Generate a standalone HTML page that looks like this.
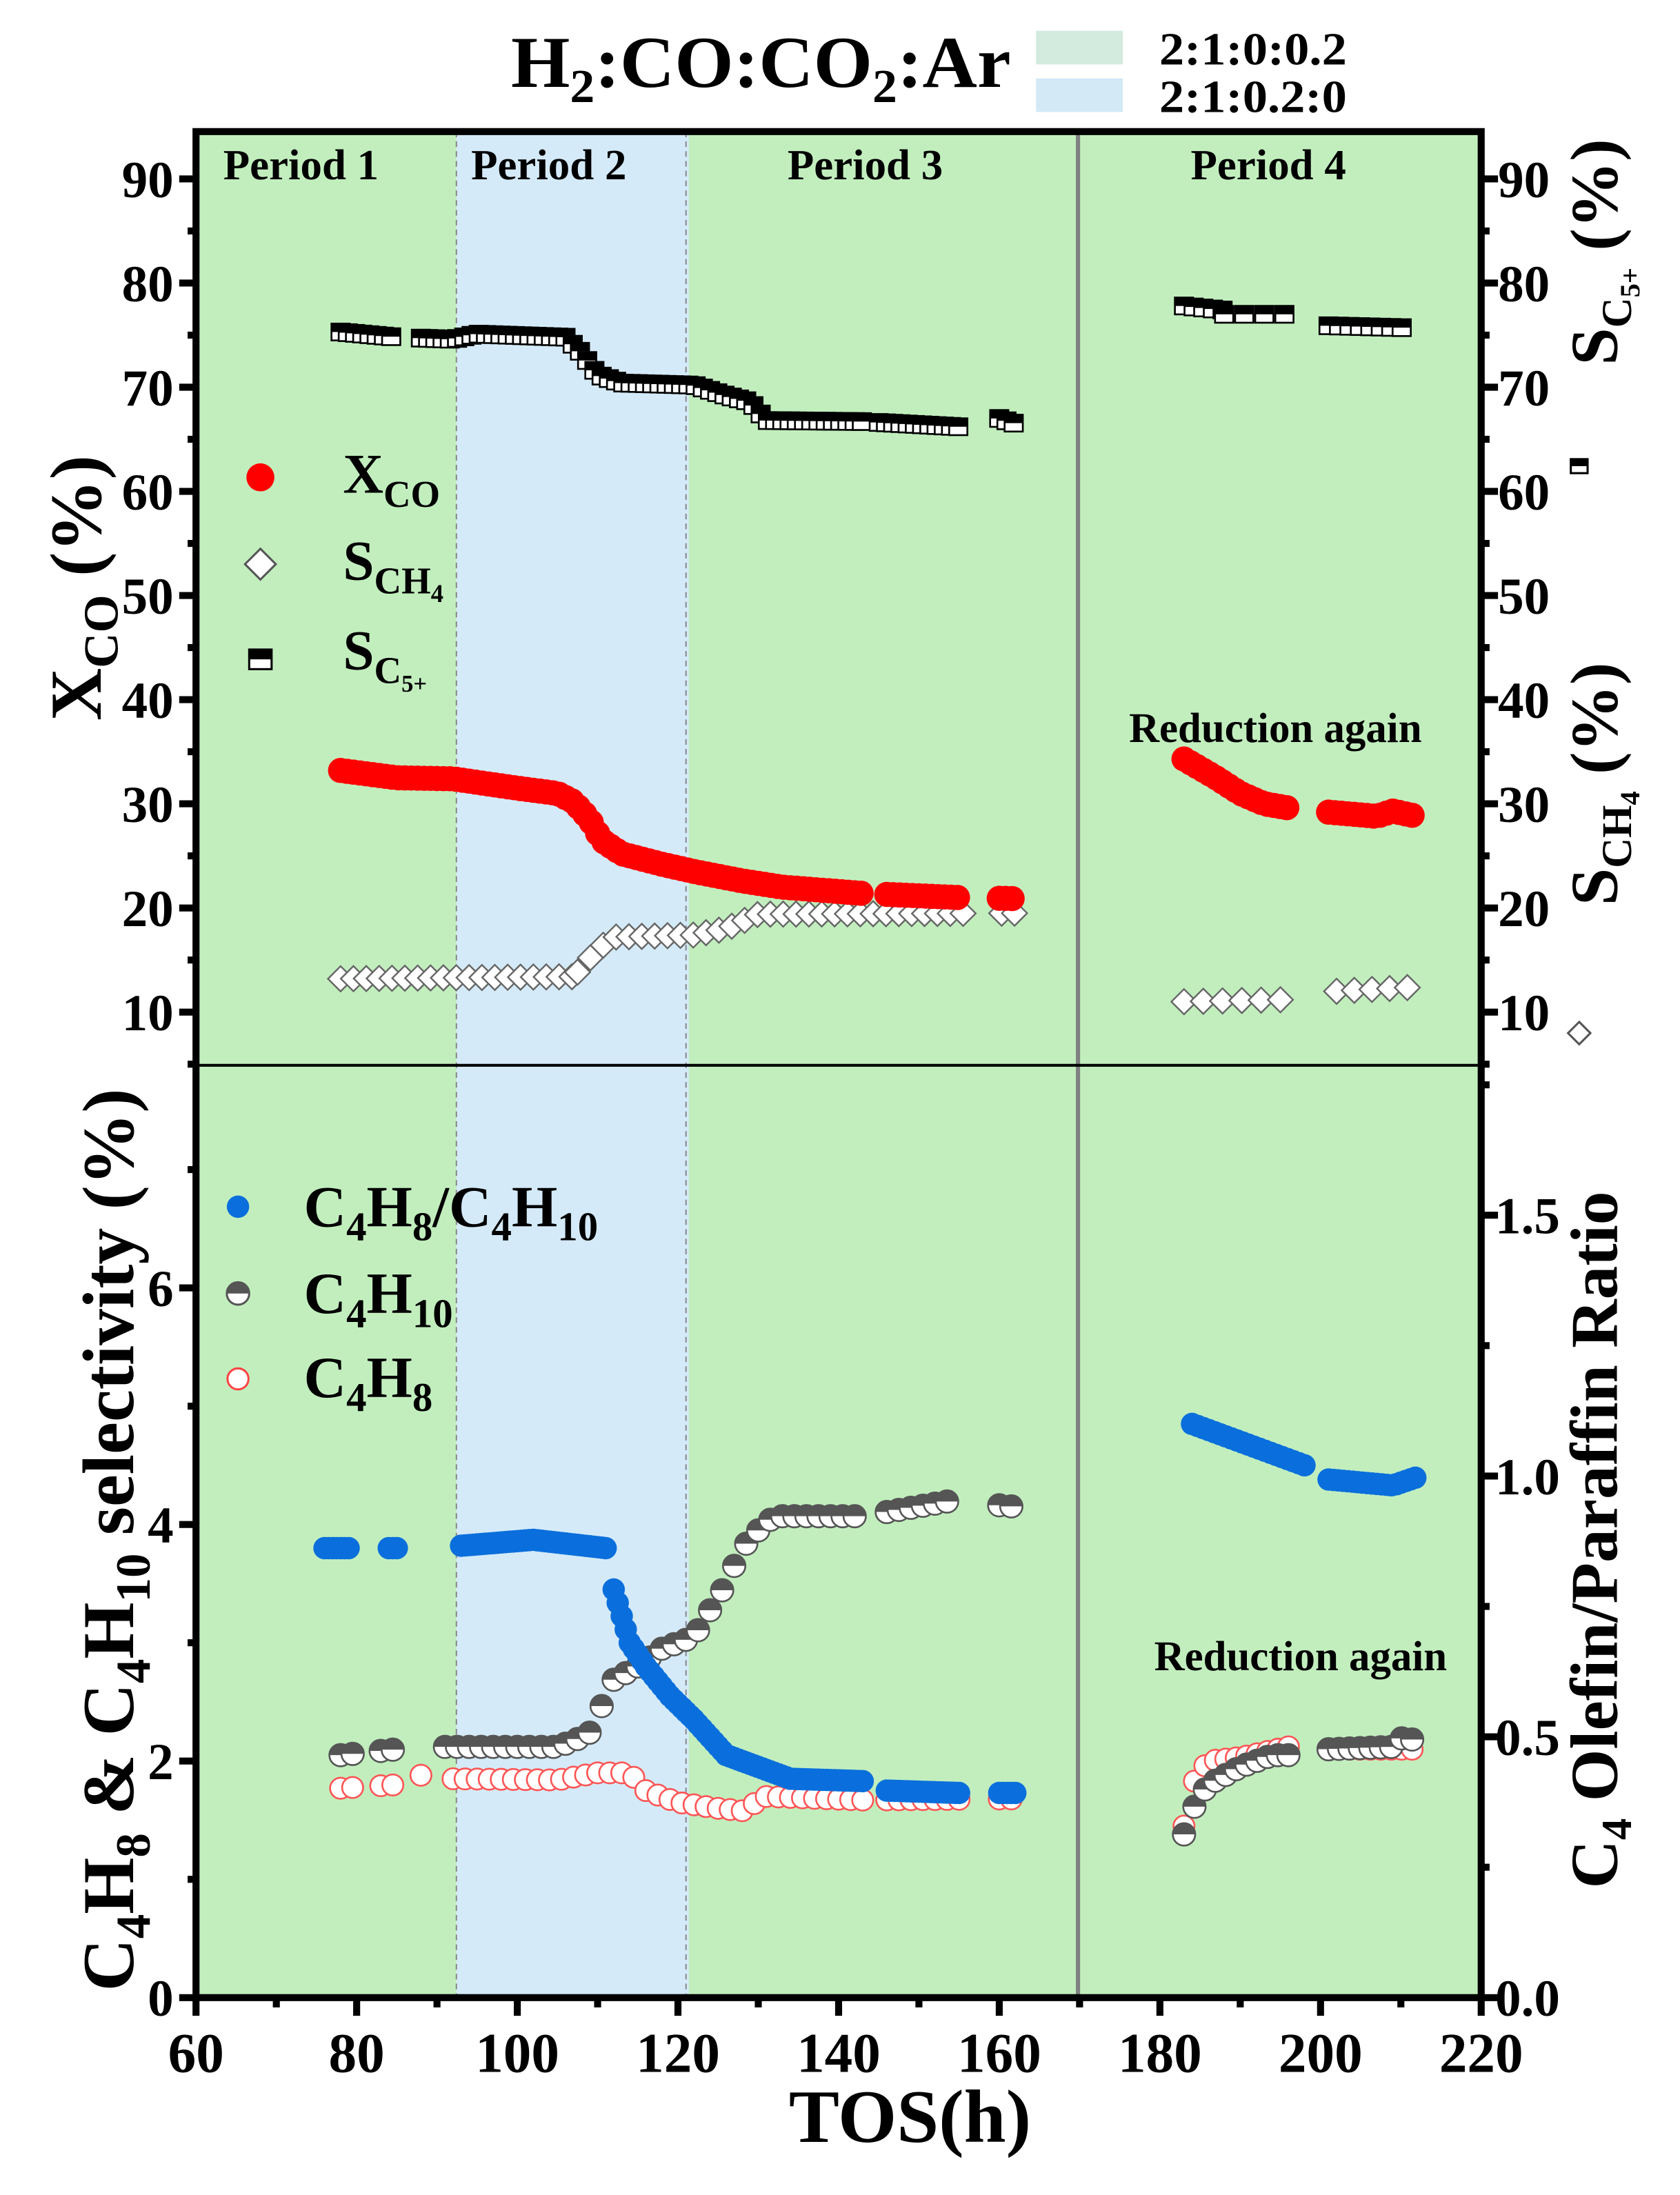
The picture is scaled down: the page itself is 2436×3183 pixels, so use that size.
<!DOCTYPE html>
<html><head><meta charset="utf-8"><style>
html,body{margin:0;padding:0;background:#fff}
svg{display:block}
text{font-family:"Liberation Serif",serif;font-weight:bold;fill:#000}
</style></head><body>
<svg id="s" width="2436" height="3183" viewBox="0 0 1200 1568" preserveAspectRatio="none" xmlns="http://www.w3.org/2000/svg">
<rect x="0" y="0" width="1200" height="1568" fill="#fff"/>
<rect x="140" y="94" width="918" height="1333" fill="#c2eebe"/>
<rect x="326" y="94" width="166" height="1333" fill="#d4eaf8"/>
<line x1="326" y1="94" x2="326" y2="1427" stroke="#888" stroke-width="1" stroke-dasharray="4,3"/>
<line x1="490" y1="94" x2="490" y2="1427" stroke="#888" stroke-width="1" stroke-dasharray="4,3"/>
<line x1="770" y1="94" x2="770" y2="1427" stroke="#808080" stroke-width="3"/>
<line x1="140" y1="761" x2="1058" y2="761" stroke="#000" stroke-width="2"/>
<g id="data"></g>
<rect x="140" y="94" width="918" height="1333" fill="none" stroke="#000" stroke-width="5"/>
<g id="ticks" stroke="#000" stroke-width="5"></g>
<g id="labels"></g>
<text x="365" y="62" font-size="52" textLength="357" lengthAdjust="spacingAndGlyphs">H<tspan font-size="34" dy="11">2</tspan><tspan dy="-11">:CO:CO</tspan><tspan font-size="34" dy="11">2</tspan><tspan dy="-11">:Ar</tspan></text>
<rect x="740" y="22" width="62" height="24" fill="#d3ebde"/>
<rect x="740" y="56" width="62" height="24" fill="#d3e9f6"/>
<text x="828" y="46" font-size="33" textLength="134" lengthAdjust="spacingAndGlyphs">2:1:0:0.2</text>
<text x="828" y="80" font-size="33" textLength="134" lengthAdjust="spacingAndGlyphs">2:1:0.2:0</text>
<text x="215" y="128" font-size="31" text-anchor="middle">Period 1</text>
<text x="392" y="128" font-size="31" text-anchor="middle">Period 2</text>
<text x="618" y="128" font-size="31" text-anchor="middle">Period 3</text>
<text x="906" y="128" font-size="31" text-anchor="middle">Period 4</text>
<text x="911" y="530" font-size="30" text-anchor="middle">Reduction again</text>
<text x="929" y="1193" font-size="30" text-anchor="middle">Reduction again</text>
<circle cx="186" cy="341" r="10" fill="#f00"/>
<text x="245" y="352" font-size="40">X<tspan font-size="27" dy="10">CO</tspan></text>
<path d="M186 392 L197 403 L186 414 L175 403 Z" fill="#fff" stroke="#555" stroke-width="1.5"/>
<text x="245" y="414" font-size="40">S<tspan font-size="27" dy="10">CH</tspan><tspan font-size="18" dy="6">4</tspan></text>
<g transform="translate(186,471)"><rect x="-8" y="-7" width="16" height="14" fill="#fff" stroke="#000" stroke-width="1.5"/><rect x="-8" y="-7" width="16" height="7" fill="#000"/></g>
<text x="245" y="478" font-size="40">S<tspan font-size="27" dy="10">C</tspan><tspan font-size="17" dy="6">5+</tspan></text>
<circle cx="170" cy="862" r="8" fill="#0a6fdc"/>
<text x="217" y="876" font-size="42">C<tspan font-size="29" dy="10">4</tspan><tspan dy="-10">H</tspan><tspan font-size="29" dy="10">8</tspan><tspan dy="-10">/C</tspan><tspan font-size="29" dy="10">4</tspan><tspan dy="-10">H</tspan><tspan font-size="29" dy="10">10</tspan></text>
<g transform="translate(170,924)"><circle r="8" fill="#fff" stroke="#555" stroke-width="1.5"/><path d="M-8 0 A8 8 0 0 1 8 0 Z" fill="#555"/></g>
<text x="217" y="938" font-size="42">C<tspan font-size="29" dy="10">4</tspan><tspan dy="-10">H</tspan><tspan font-size="29" dy="10">10</tspan></text>
<circle cx="170" cy="985" r="7.5" fill="#fff" stroke="#f44" stroke-width="1.5"/>
<text x="217" y="998" font-size="42">C<tspan font-size="29" dy="10">4</tspan><tspan dy="-10">H</tspan><tspan font-size="29" dy="10">8</tspan></text>
<text transform="translate(72,420) rotate(-90)" font-size="52" text-anchor="middle">X<tspan font-size="35" dy="12">CO</tspan><tspan dy="-12"> (%)</tspan></text>
<text transform="translate(95,1100) rotate(-90)" font-size="52" text-anchor="middle">C<tspan font-size="35" dy="12">4</tspan><tspan dy="-12">H</tspan><tspan font-size="35" dy="12">8</tspan><tspan dy="-12"> &amp; C</tspan><tspan font-size="35" dy="12">4</tspan><tspan dy="-12">H</tspan><tspan font-size="35" dy="12">10</tspan><tspan dy="-12"> selectivity  (%)</tspan></text>
<text transform="translate(1155,180) rotate(-90)" font-size="48" text-anchor="middle">S<tspan font-size="30" dy="10">C</tspan><tspan font-size="20" dy="6">5+</tspan><tspan dy="-16"> (%)</tspan></text>
<text transform="translate(1155,560) rotate(-90)" font-size="48" text-anchor="middle">S<tspan font-size="30" dy="10">CH</tspan><tspan font-size="20" dy="6">4</tspan><tspan dy="-16"> (%)</tspan></text>
<g transform="translate(1128,333)"><rect x="-6" y="-5" width="12" height="10" fill="#fff" stroke="#000" stroke-width="1.5"/><rect x="-6" y="-5" width="12" height="5" fill="#000"/></g>
<path d="M1128 730 L1136 738 L1128 746 L1120 738 Z" fill="#fff" stroke="#555" stroke-width="1.5"/>
<text transform="translate(1155,1100) rotate(-90)" font-size="48" text-anchor="middle">C<tspan font-size="31" dy="10">4</tspan><tspan dy="-10"> Olefin/Paraffin Ratio</tspan></text>
<text x="650" y="1530" font-size="54" text-anchor="middle">TOS(h)</text>
</svg>
<script>
var NS="http://www.w3.org/2000/svg";
function X(t){return 140+(t-60)*5.7375}
function YT(v){return 723-(v-10)*7.44}
function YL(v){return 1427-v*84.5}
function el(p,tag,a){var e=document.createElementNS(NS,tag);for(var k in a)e.setAttribute(k,a[k]);p.appendChild(e);return e}
function interp(pts,t){for(var i=0;i<pts.length-1;i++){if(t>=pts[i][0]&&t<=pts[i+1][0]){var f=(t-pts[i][0])/(pts[i+1][0]-pts[i][0]||1);return pts[i][1]+f*(pts[i+1][1]-pts[i][1]);}}return pts[pts.length-1][1]}
function gen(ranges,step,pts){var out=[];ranges.forEach(function(r){for(var t=r[0];t<=r[1]+1e-6;t+=step)out.push([t,interp(pts,t)])});return out}
var D=document.getElementById('data');
var sch=gen([[78,107],[107.5,162]],1.6,[[78,13.2],[107,13.4],[110,16],[112,17.2],[122,17.4],[126,18],[130,19.4],[162,19.5]]);
sch=sch.filter(function(p){return !(p[0]>155.5&&p[0]<159.5)}).concat(gen([[183,196]],2.4,[[183,11],[196,11.2]])).concat(gen([[202,212]],2.2,[[202,12],[212,12.4]]));
sch.forEach(function(p){var x=X(p[0]),y=YT(p[1]);el(D,'path',{d:'M'+x+' '+(y-9)+' L'+(x+9)+' '+y+' L'+x+' '+(y+9)+' L'+(x-9)+' '+y+' Z',fill:'#fff',stroke:'#666','stroke-width':1.2})});
var sc=gen([[78,85],[88,143],[145,155],[160,162]],0.9,[[78,75.3],[85,74.8],[92,74.6],[95,75.1],[106,74.8],[108,73.3],[110,71.2],[113,70.4],[122,70.2],[126,69.2],[129,68.6],[131,66.8],[143,66.7],[155,66.2],[160,67],[162,66.5]]);
sc=sc.concat(gen([[183,188]],1.2,[[183,77.8],[188,77.4]])).concat(gen([[188,196]],2.5,[[188,77],[196,77]])).concat(gen([[201,211]],1.3,[[201,75.9],[211,75.7]]));
sc.forEach(function(p){var g=el(D,'g',{transform:'translate('+X(p[0])+','+YT(p[1])+')'});el(g,'rect',{x:-6.5,y:-6,width:13,height:12,fill:'#fff',stroke:'#000','stroke-width':1.3});el(g,'rect',{x:-6.5,y:-6,width:13,height:6,fill:'#000'})});
var xc=gen([[78,143],[146,155],[160,162]],0.8,[[78,33.2],[85,32.5],[92,32.4],[100,31.5],[105,31],[107,30.2],[109,28.5],[110.5,26.5],[113,25.2],[118,24.2],[122,23.5],[128,22.6],[133,22],[143,21.4],[155,21],[162,20.9]]);
xc=xc.concat(gen([[183,196]],0.8,[[183,34.3],[187,32.5],[190,31],[193,30],[196,29.6]])).concat(gen([[201,212]],0.8,[[201,29.2],[207,28.8],[209,29.3],[212,28.8]]));
xc.forEach(function(p){el(D,'circle',{cx:X(p[0]),cy:YT(p[1]),r:9,fill:'#f00'})});
var c8=gen([[78,79.5],[83,85.5],[88,88],[92,143],[146,155],[160,162]],1.5,[[78,1.77],[85,1.8],[88,1.88],[92,1.85],[105,1.84],[110,1.9],[114,1.9],[116,1.75],[120,1.65],[125,1.6],[128,1.58],[131,1.7],[143,1.67],[162,1.68]]);
c8=c8.concat(gen([[183,197]],1.3,[[183,1.45],[184.3,1.83],[186,2.0],[190,2.03],[196,2.12],[197,2.08]])).concat(gen([[201,212]],1.3,[[201,2.1],[212,2.1]]));
var c10=gen([[78,79.5],[83,85],[91,143],[146,154],[160,162]],1.5,[[78,2.05],[85,2.1],[91,2.12],[105,2.12],[108,2.2],[110,2.28],[111,2.65],[115,2.8],[118,2.95],[122,3.05],[126,3.5],[128,3.8],[130,3.95],[132,4.07],[143,4.07],[154,4.2],[162,4.15]]);
c10=c10.concat(gen([[183,197]],1.3,[[183,1.38],[184.5,1.65],[186,1.8],[190,1.95],[194,2.05],[197,2.05]])).concat(gen([[201,212]],1.3,[[201,2.1],[209,2.12],[211,2.25],[212,2.08]]));
var bl=gen([[76,79],[84,85],[93,111],[112,143],[146,155],[160,162]],0.5,[[76,3.8],[85,3.8],[93,3.82],[102,3.87],[111,3.8],[112,3.45],[114,3.0],[116,2.8],[119,2.55],[122,2.35],[126,2.05],[130,1.95],[134,1.85],[143,1.83],[146,1.75],[155,1.73],[162,1.73]]);
bl=bl.concat(gen([[184,198]],0.7,[[184,4.85],[190,4.7],[198,4.5]])).concat(gen([[201,212]],0.6,[[201,4.38],[209,4.33],[212,4.4]]));
c8.forEach(function(p){el(D,'circle',{cx:X(p[0]),cy:YL(p[1]),r:7.5,fill:'#fff',stroke:'#f55','stroke-width':1.3})});
c10.forEach(function(p){var g=el(D,'g',{transform:'translate('+X(p[0])+','+YL(p[1])+')'});el(g,'circle',{r:8,fill:'#fff',stroke:'#555','stroke-width':1.3});el(g,'path',{d:'M-8 0 A8 8 0 0 1 8 0 Z',fill:'#555'})});
bl.forEach(function(p){el(D,'circle',{cx:X(p[0]),cy:YL(p[1]),r:8,fill:'#0a6fdc'})});
var T=document.getElementById('ticks'),L=document.getElementById('labels');
function tl(x1,y1,x2,y2,w){el(T,'line',{x1:x1,y1:y1,x2:x2,y2:y2,'stroke-width':w||5})}
function tx(x,y,s,a,fs){var t=el(L,'text',{x:x,y:y,'font-size':fs||37,'text-anchor':a});t.textContent=s}
for(var t=60;t<=220;t+=10){var x=X(t);tl(x,1427,x,t%20==0?1440:1434);if(t%20==0)tx(x,1480,''+t,'middle',40)}
for(var v=5;v<=95;v+=5){var y=YT(v);if(y<94||y>761)continue;var maj=v%10==0;tl(140,y,maj?128:134,y);tl(1058,y,maj?1070:1064,y);if(maj){tx(124,y+13,''+v,'end');tx(1070,y+13,''+v,'start')}}
for(var v=0;v<=7;v++){var y=YL(v);var maj=v%2==0;tl(140,y,maj?128:134,y);if(maj)tx(124,y+13,''+v,'end')}
for(var r=0;r<=1.75;r+=0.25){var y=1427-r*372.6;var maj=Math.abs(r*2-Math.round(r*2))<1e-6;tl(1058,y,maj?1070:1064,y);if(maj)tx(1068,y+13,r.toFixed(1),'start')}
</script>
</body></html>
